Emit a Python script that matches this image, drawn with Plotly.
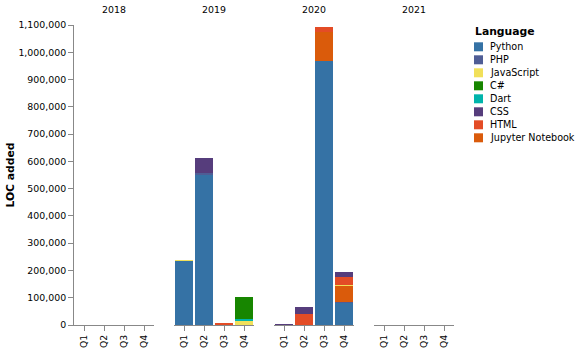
import plotly.graph_objects as go
from plotly.subplots import make_subplots

years = ["2018", "2019", "2020", "2021"]
quarters = ["Q1", "Q2", "Q3", "Q4"]

# stack order bottom -> top
languages = ["Python", "PHP", "Jupyter Notebook", "JavaScript", "HTML", "Dart", "CSS", "C#"]
legend_order = ["Python", "PHP", "JavaScript", "C#", "Dart", "CSS", "HTML", "Jupyter Notebook"]
colors = {
    "Python": "#3572A5",
    "PHP": "#4F5D95",
    "JavaScript": "#f1e05a",
    "C#": "#178600",
    "Dart": "#00B4AB",
    "CSS": "#563d7c",
    "HTML": "#e34c26",
    "Jupyter Notebook": "#DA5B0B",
}

# values per year: [Q1, Q2, Q3, Q4]
python_loc = {"2018": [0, 0, 0, 0], "2019": [235000, 553000, 0, 0], "2020": [0, 0, 967000, 83000], "2021": [0, 0, 0, 0]}
php_loc = {"2018": [0, 0, 0, 0], "2019": [0, 3000, 0, 0], "2020": [0, 0, 0, 3000], "2021": [0, 0, 0, 0]}
jupyter_loc = {"2018": [0, 0, 0, 0], "2019": [0, 0, 0, 0], "2020": [0, 1000, 106000, 58000], "2021": [0, 0, 0, 0]}
javascript_loc = {"2018": [0, 0, 0, 0], "2019": [1000, 0, 0, 17000], "2020": [0, 0, 0, 2000], "2021": [0, 0, 0, 0]}
html_loc = {"2018": [0, 0, 0, 0], "2019": [0, 0, 7000, 0], "2020": [0, 38000, 18000, 30000], "2021": [0, 0, 0, 0]}
dart_loc = {"2018": [0, 0, 0, 0], "2019": [0, 0, 0, 5000], "2020": [0, 0, 0, 0], "2021": [0, 0, 0, 0]}
css_loc = {"2018": [0, 0, 0, 0], "2019": [0, 57000, 0, 0], "2020": [400, 26000, 0, 17000], "2021": [0, 0, 0, 0]}
csharp_loc = {"2018": [0, 0, 0, 0], "2019": [0, 0, 0, 80000], "2020": [0, 0, 0, 0], "2021": [0, 0, 0, 0]}

values = {
    "Python": python_loc,
    "PHP": php_loc,
    "Jupyter Notebook": jupyter_loc,
    "JavaScript": javascript_loc,
    "HTML": html_loc,
    "Dart": dart_loc,
    "CSS": css_loc,
    "C#": csharp_loc,
}

y_ticks = list(range(0, 1100001, 100000))

FONT = "DejaVu Sans"
W, H = 579, 351
L, R, T, B = 74, 125, 25, 26
pw = W - L - R  # 380
ph = H - T - B  # 300


def px_x(px):
    return (px - L) / pw


def px_y(py):
    return 1 - (py - T) / ph


fig = make_subplots(rows=1, cols=4, shared_yaxes=True, horizontal_spacing=0)

domains = [[0, 80 / pw], [100 / pw, 180 / pw], [200 / pw, 280 / pw], [300 / pw, 1.0]]

for lang in languages:
    for ci, yr in enumerate(years):
        fig.add_trace(
            go.Bar(
                x=quarters,
                y=values[lang][yr],
                name=lang,
                marker=dict(color=colors[lang], line=dict(width=0)),
                showlegend=False,
                hovertemplate=lang + " %{x}: %{y:,}<extra></extra>",
            ),
            row=1,
            col=ci + 1,
        )

fig.update_layout(
    barmode="stack",
    bargap=0.1,
    width=W,
    height=H,
    margin=dict(l=L, r=R, t=T, b=B, autoexpand=False),
    plot_bgcolor="white",
    paper_bgcolor="white",
    font=dict(family=FONT, size=10, color="#000"),
    showlegend=False,
)

TICK = 9.4
for ci in range(4):
    axname = "xaxis" if ci == 0 else f"xaxis{ci + 1}"
    fig.layout[axname].update(
        domain=domains[ci],
        type="category",
        categoryorder="array",
        categoryarray=quarters,
        tickangle=-90,
        showline=True,
        linecolor="#888",
        linewidth=1,
        ticks="outside",
        ticklen=5,
        tickcolor="#888",
        showgrid=False,
        zeroline=False,
        tickfont=dict(size=TICK, color="#000"),
        fixedrange=True,
    )
    yname = "yaxis" if ci == 0 else f"yaxis{ci + 1}"
    fig.layout[yname].update(
        range=[0, 1100000],
        showgrid=False,
        zeroline=False,
    )

fig.layout.yaxis.update(
    showline=True,
    linecolor="#888",
    linewidth=1,
    ticks="outside",
    ticklen=5,
    tickcolor="#888",
    tickvals=y_ticks,
    tickformat=",",
    tickfont=dict(size=TICK, color="#000"),
    title=dict(text="<b>LOC added</b>", font=dict(size=10.8), standoff=1),
)
for ci in range(1, 4):
    fig.layout[f"yaxis{ci + 1}"].update(showticklabels=False, showline=False, ticks="")

# facet headers
for ci, yr in enumerate(years):
    d = domains[ci]
    fig.add_annotation(
        text=yr,
        x=(d[0] + d[1]) / 2,
        y=px_y(9),
        xref="paper",
        yref="paper",
        showarrow=False,
        font=dict(size=TICK, color="#000"),
        xanchor="center",
        yanchor="middle",
    )

# legend (drawn to match compact symbol legend)
fig.add_annotation(
    text="<b>Language</b>",
    x=px_x(473),
    y=px_y(31),
    xref="paper",
    yref="paper",
    showarrow=False,
    xanchor="left",
    yanchor="middle",
    font=dict(size=10.8, color="#000"),
)
for i, lang in enumerate(legend_order):
    cy = 46.8 + 13 * i
    fig.add_shape(
        type="rect",
        xref="paper",
        yref="paper",
        x0=px_x(474),
        x1=px_x(483),
        y0=px_y(cy - 4.5),
        y1=px_y(cy + 4.5),
        fillcolor=colors[lang],
        line=dict(width=0),
    )
    fig.add_annotation(
        text=lang,
        x=px_x(488),
        y=px_y(cy),
        xref="paper",
        yref="paper",
        showarrow=False,
        xanchor="left",
        yanchor="middle",
        font=dict(size=9.6, color="#000"),
    )

fig.write_html("out.html")
